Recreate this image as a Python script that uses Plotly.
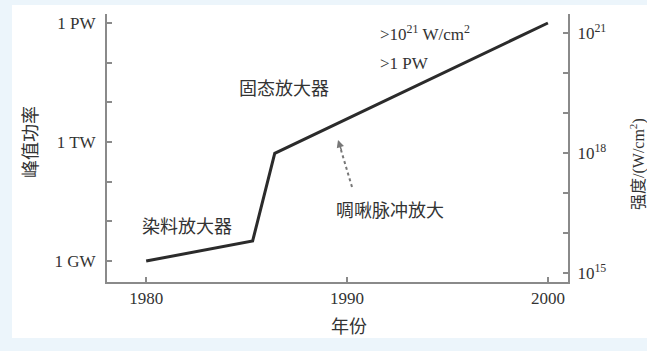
import plotly.graph_objects as go
import numpy as np

# ---- data ----
years = [1980, 1985.3, 1986.4, 2000]
peak_power_W = [1e9, 3.2e9, 5.2e11, 1e15]

power_tickvals = [1e9, 1e10, 1e11, 1e12, 1e13, 1e14, 1e15]
power_ticktext = ["1 GW", "", "", "1 TW", "", "", "1 PW"]
intensity_tickvals = [1e15, 1e16, 1e17, 1e18, 1e19, 1e20, 1e21]
intensity_ticktext = ["10<sup>15</sup>", "", "", "10<sup>18</sup>", "", "", "10<sup>21</sup>"]
year_ticks = [1980, 1990, 2000]

labels = {
    "dye": "染料放大器",
    "solid": "固态放大器",
    "cpa": "啁啾脉冲放大",
    "top1": ">10<sup>21</sup> W/cm<sup>2</sup>",
    "top2": ">1 PW",
}

W, H = 647, 351
L, R, T, B = 107, 79, 14, 69
pw, ph = W - L - R, H - T - B

def px(x):
    return (x - L) / pw

def py(y):
    return (H - B - y) / ph

FONT = "Liberation Serif, Noto Sans CJK SC"
TXT = "#333333"
AX = "#8a8a8a"

fig = go.Figure()
fig.add_trace(go.Scatter(x=years, y=peak_power_W, mode="lines",
                         line=dict(color="#2b2b2b", width=3), showlegend=False,
                         hoverinfo="skip"))
# dummy trace for second axis
fig.add_trace(go.Scatter(x=[None], y=[None], yaxis="y2", showlegend=False))

axis_common = dict(showline=True, linecolor=AX, linewidth=2, ticks="inside",
                   ticklen=5, tickwidth=2, tickcolor=AX, showgrid=False,
                   zeroline=False, tickfont=dict(family=FONT, size=17, color=TXT))

fig.update_layout(
    width=W, height=H,
    margin=dict(l=L, r=R, t=T, b=B, pad=0),
    paper_bgcolor="#ecf5fb", plot_bgcolor="white",
    xaxis=dict(range=[1978.05, 2001.0], tickvals=year_ticks, **axis_common),
    yaxis=dict(type="log", range=[8.471, 15.227], tickvals=power_tickvals,
               ticktext=power_ticktext, ticklabelstandoff=6, **axis_common),
    yaxis2=dict(type="log", range=[14.775, 21.475], overlaying="y", side="right",
                anchor="x", tickvals=intensity_tickvals, ticktext=intensity_ticktext,
                ticklabelstandoff=4, **axis_common),
    showlegend=False,
)

# white inner panel
fig.add_shape(type="rect", xref="paper", yref="paper",
              x0=px(12), x1=px(648), y0=py(338), y1=py(5),
              fillcolor="white", line=dict(width=0), layer="below")

def ann(text, x, y, size=18, **kw):
    fig.add_annotation(text=text, xref="paper", yref="paper", x=px(x), y=py(y),
                       showarrow=False, font=dict(family=FONT, size=size, color=TXT),
                       xanchor=kw.pop("xanchor", "center"), yanchor="middle", **kw)

ann(labels["dye"], 187, 227)
ann(labels["solid"], 284, 89)
ann(labels["cpa"], 390, 211)
ann(labels["top1"], 378, 33, size=17, xanchor="left")
ann(labels["top2"], 378, 63, size=17, xanchor="left")

# axis titles
ann("峰值功率", 31, 142, textangle=-90)
ann("强度/(W/cm<sup>2</sup>)", 637, 164, size=16, textangle=-90)
ann("年份", 349, 327)

# arrow (dotted shaft + head)
hx, hy = px(338), py(140)
tx, ty = px(352), py(187)
fig.add_shape(type="line", xref="paper", yref="paper", x0=tx, y0=ty,
              x1=px(341), y1=py(150), line=dict(color="#777777", width=2, dash="dot"))
fig.add_annotation(xref="paper", yref="paper", x=hx, y=hy, ax=4, ay=12,
                   axref="pixel", ayref="pixel", text="", showarrow=True,
                   arrowhead=2, arrowsize=1, arrowwidth=1.5, arrowcolor="#777777")

fig.write_html("out.html")
